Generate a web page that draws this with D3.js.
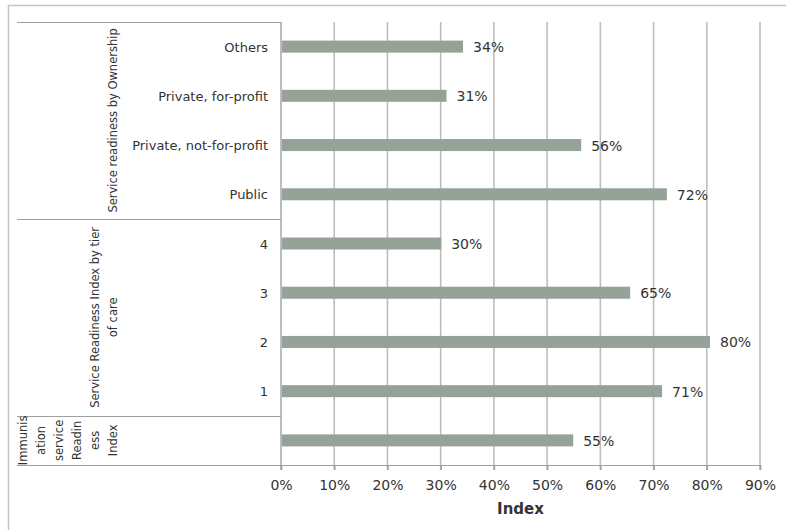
<!DOCTYPE html>
<html>
<head>
<meta charset="utf-8">
<script src="https://cdn.jsdelivr.net/npm/d3@7"></script>
<style>
  html, body { margin: 0; padding: 0; background: #fff; }
  svg { display: block; }
  text { font-family: "DejaVu Sans", sans-serif; fill: #333; }
</style>
</head>
<body>
<svg id="chart" width="786" height="530"></svg>
<script>
// ---- data ----
const categories = ["Others", "Private, for-profit", "Private, not-for-profit", "Public", "4", "3", "2", "1", "Immunisation service Readiness Index"];
const categoryLabels = ["Others", "Private, for-profit", "Private, not-for-profit", "Public", "4", "3", "2", "1", ""];
const values = [0.342, 0.311, 0.564, 0.725, 0.301, 0.656, 0.806, 0.716, 0.549];
const valueLabels = ["34%", "31%", "56%", "72%", "30%", "65%", "80%", "71%", "55%"];
const groupNames = ["Service readiness by Ownership", "Service Readiness Index by tier of care", "Immunisation service Readiness Index"];
const groupLines = [["Service readiness by Ownership"], ["Service Readiness Index by tier", "of care"], ["Immunis", "ation", "service", "Readin", "ess", "Index"]];
const groupStart = [0, 4, 8];
const groupEnd = [3, 7, 8];
const xTicks = [0, 0.1, 0.2, 0.3, 0.4, 0.5, 0.6, 0.7, 0.8, 0.9];
const xTickLabels = ["0%", "10%", "20%", "30%", "40%", "50%", "60%", "70%", "80%", "90%"];
const xTitle = "Index";

// ---- layout ----
const svg = d3.select("#chart");
const plotLeft = 281, plotRight = 760, plotTop = 22, plotBottom = 465;
const tableLeft = 17;

const x = d3.scaleLinear().domain([0, 0.9]).range([plotLeft, plotRight]);
const y = d3.scaleBand().domain(categories).range([plotTop, plotBottom]).padding(0);

// outer frame (top and left edges visible)
svg.append("line").attr("x1", 8).attr("x2", 786).attr("y1", 5.5).attr("y2", 5.5)
  .attr("stroke", "#c4c4c4").attr("stroke-width", 1.5);
svg.append("line").attr("x1", 8.5).attr("x2", 8.5).attr("y1", 5).attr("y2", 530)
  .attr("stroke", "#c4c4c4").attr("stroke-width", 1.5);

// gridlines
svg.append("g").selectAll("line").data(xTicks.slice(1)).join("line")
  .attr("x1", d => x(d)).attr("x2", d => x(d))
  .attr("y1", plotTop).attr("y2", plotBottom + 5)
  .attr("stroke", "#bdbdbd").attr("stroke-width", 1.6);

// bottom axis
const xAxis = d3.axisBottom(x).tickValues(xTicks).tickFormat((d, i) => xTickLabels[i]).tickSize(5).tickPadding(10);
const gx = svg.append("g").attr("transform", `translate(0,${plotBottom})`).call(xAxis);
gx.select(".domain").attr("stroke", "#a0a0a0").attr("stroke-width", 1.2);
gx.selectAll(".tick line").attr("stroke", "#a0a0a0").attr("stroke-width", 1.6);
gx.selectAll(".tick text").style("font-family", "DejaVu Sans, sans-serif").style("font-size", "14px").attr("fill", "#333");

// axis title
svg.append("text").attr("x", (plotLeft + plotRight) / 2).attr("y", 514)
  .attr("text-anchor", "middle").style("font-size", "15px").style("font-weight", "bold")
  .attr("fill", "#222").text(xTitle);

// table lines (group separators)
const sepYs = [plotTop].concat(groupEnd.map(e => y(categories[e]) + y.bandwidth()));
svg.append("g").selectAll("line").data(sepYs).join("line")
  .attr("x1", tableLeft).attr("x2", plotLeft)
  .attr("y1", d => Math.round(d) + 0.5).attr("y2", d => Math.round(d) + 0.5)
  .attr("stroke", "#a0a0a0").attr("stroke-width", 1.2);
// vertical axis line
svg.append("line").attr("x1", plotLeft).attr("x2", plotLeft).attr("y1", plotTop).attr("y2", plotBottom + 5)
  .attr("stroke", "#a0a0a0").attr("stroke-width", 1.4);

// bars
const barH = 12;
svg.append("g").selectAll("rect").data(categories).join("rect")
  .attr("x", plotLeft + 1)
  .attr("y", d => y(d) + y.bandwidth() / 2 - barH / 2)
  .attr("width", (d, i) => x(values[i]) - plotLeft - 1)
  .attr("height", barH)
  .attr("fill", "#95a298");

// value labels
svg.append("g").selectAll("text").data(categories).join("text")
  .attr("x", (d, i) => x(values[i]) + 10)
  .attr("y", d => y(d) + y.bandwidth() / 2 + 5.5)
  .style("font-size", "14px")
  .text((d, i) => valueLabels[i]);

// category labels
svg.append("g").selectAll("text").data(categories).join("text")
  .attr("x", 268)
  .attr("y", d => y(d) + y.bandwidth() / 2 + 5)
  .attr("text-anchor", "end")
  .style("font-size", "13px")
  .text((d, i) => categoryLabels[i]);

// group labels (rotated)
groupNames.forEach((g, gi) => {
  const top = y(categories[groupStart[gi]]);
  const bot = y(categories[groupEnd[gi]]) + y.bandwidth();
  const cy = (top + bot) / 2;
  const lines = groupLines[gi];
  const n = lines.length;
  lines.forEach((ln, li) => {
    const cx = 112 - 18 * (n - 1 - li) + 4.5;
    svg.append("text")
      .attr("transform", `translate(${cx},${cy}) rotate(-90)`)
      .attr("text-anchor", "middle")
      .style("font-size", "11.5px")
      .text(ln);
  });
});
</script>
</body>
</html>
